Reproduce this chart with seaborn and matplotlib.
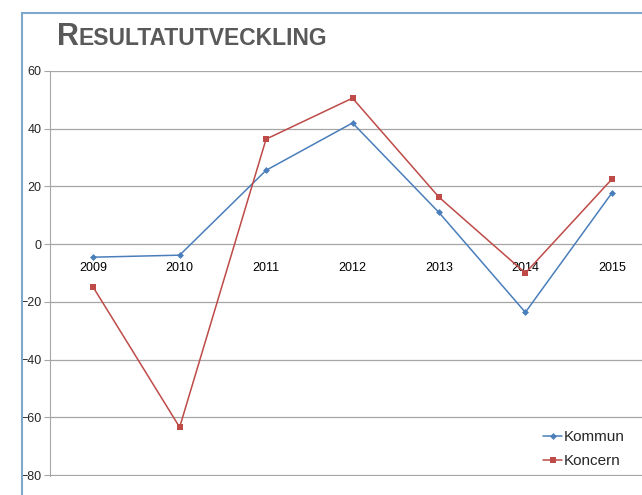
import pandas as pd
import matplotlib.pyplot as plt
import seaborn as sns
from matplotlib.patches import Rectangle

years = [2009, 2010, 2011, 2012, 2013, 2014, 2015]
kommun = [-4.5, -3.8, 25.6, 42.0, 11.0, -23.6, 17.7]
koncern = [-14.9, -63.4, 36.4, 50.6, 16.3, -10.0, 22.5]
yticks = [-80, -60, -40, -20, 0, 20, 40, 60]

df = pd.DataFrame({"year": years, "Kommun": kommun, "Koncern": koncern})

sns.set_style("white")
plt.rcParams["font.family"] = ["Liberation Sans", "DejaVu Sans"]

fig = plt.figure(figsize=(6.42, 4.95), dpi=100)
ax = fig.add_axes([50 / 642, 1 - 476 / 495, 605 / 642, 405 / 495])

# outer chart frame (left/top edges visible)
fig.patches.append(Rectangle((22 / 642, -0.1), 1.2, (495 - 13) / 495 + 0.1,
                             transform=fig.transFigure, fill=False,
                             edgecolor="#7fa7c9", linewidth=1.5))

sns.lineplot(data=df, x="year", y="Kommun", ax=ax, color="#4A7EBB",
             marker="D", markersize=3.5, markeredgewidth=0, linewidth=1.1,
             label="Kommun")
sns.lineplot(data=df, x="year", y="Koncern", ax=ax, color="#BE4B48",
             marker="s", markersize=4.5, markeredgewidth=0, linewidth=1.1,
             label="Koncern")

ax.set_xlim(years[0] - 0.5, years[-1] + 0.5)
ax.set_ylim(-80.3, 60)
ax.set_yticks(yticks)
ax.set_xticks(years)
ax.set_xticklabels([str(y) for y in years])
ax.grid(axis="y", color="#a6a6a6", linewidth=0.9)
ax.set_axisbelow(True)
ax.set_xlabel("")
ax.set_ylabel("")

for s in ["top", "right"]:
    ax.spines[s].set_visible(False)
ax.spines["left"].set_color("#a6a6a6")
ax.spines["bottom"].set_position(("data", 0))
ax.spines["bottom"].set_visible(False)
ax.tick_params(axis="x", length=0, pad=13, labelsize=9, colors="black")
ax.tick_params(axis="y", length=4, width=0.8, color="#a6a6a6", pad=2,
               labelsize=9, labelleft=True, left=True)

leg = ax.legend(loc="lower right", bbox_to_anchor=((631 - 50) / 605, 0.005),
                frameon=False, fontsize=11, handlelength=1.3, handletextpad=0.1,
                labelspacing=0.65, borderaxespad=0)

# small-caps title
fig.text(57 / 642, 1 - 45 / 495, "R", fontsize=22, fontweight="bold",
         color="#595959", va="baseline")
fig.text(78 / 642, 1 - 45 / 495, "ESULTATUTVECKLING", fontsize=16.5,
         fontweight="bold", color="#595959", va="baseline")

fig.savefig("out.png", dpi=100)
